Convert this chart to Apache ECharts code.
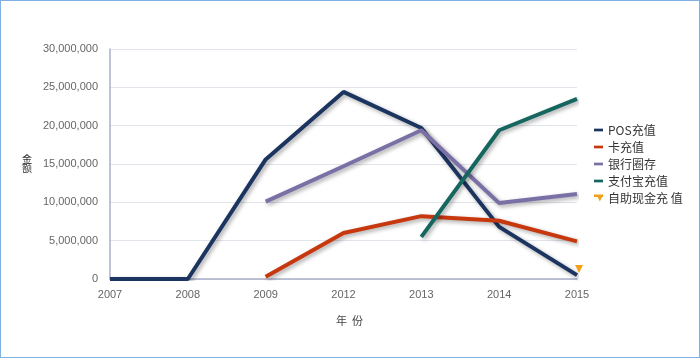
<!DOCTYPE html>
<html><head><meta charset="utf-8">
<script src="https://cdn.jsdelivr.net/npm/echarts@6/dist/echarts.min.js"></script>
<style>
html,body{margin:0;padding:0;background:#fff;}
#wrap{position:absolute;left:0;top:0;width:700px;height:358px;box-sizing:border-box;border:1px solid #7fb0e0;}
#c{width:698px;height:356px;}
</style></head><body>
<div id="wrap"><div id="c"></div></div>
<script>
var years = ['2007','2008','2009','2012','2013','2014','2015'];
var posData = [0, 0, 15600000, 24400000, 19700000, 6800000, 500000];
var cardData = [null, null, 300000, 6000000, 8200000, 7600000, 4900000];
var bankData = [null, null, 10100000, 14700000, 19400000, 9900000, 11100000];
var alipayData = [null, null, null, null, 5500000, 19400000, 23500000];
var cashData = [null, null, null, null, null, null, 1300000];
var seriesNames = ['POS充值','卡充值','银行圈存','支付宝充值','自助现金充 值'];
var yTicks = [0, 5000000, 10000000, 15000000, 20000000, 25000000, 30000000];

var colors = ['#1b3460','#c8380f','#7a70a6','#166660','#f5a01a'];
var chart = echarts.init(document.getElementById('c'));
var shadow = {shadowColor:'rgba(0,0,0,0.35)', shadowBlur:4, shadowOffsetX:2, shadowOffsetY:2};
function lineSeries(name, data, color){
  return {name:name, type:'line', data:data, symbol:'none', connectNulls:false,
    lineStyle:Object.assign({width:4, color:color}, shadow), itemStyle:{color:color}};
}
var lineIcon = 'path://M0,7 L10,7 L10,10 L0,10 Z';
chart.setOption({
  animation:false,
  color:colors,
  grid:{left:109, right:122, top:48, bottom:78},
  legend:{
    orient:'vertical', left:588, top:118, itemGap:5, itemWidth:9, itemHeight:10,
    textStyle:{fontSize:12, color:'#333', fontFamily:'Noto Sans CJK SC'},
    data:[
      {name:seriesNames[0], icon:lineIcon},
      {name:seriesNames[1], icon:lineIcon},
      {name:seriesNames[2], icon:lineIcon},
      {name:seriesNames[3], icon:lineIcon},
      {name:seriesNames[4], icon:'path://M0,0 L10,0 L10,3 L9,3 L6.5,8 L4,3 L0,3 Z'}
    ]
  },
  xAxis:{
    type:'category', data:years, boundaryGap:false,
    name:'年  份', nameLocation:'middle', nameGap:36,
    nameTextStyle:{fontSize:11, color:'#444', fontFamily:'Noto Sans CJK SC', padding:[0,0,0,12]},
    axisLine:{lineStyle:{color:'#a9b0c8', width:1.5}},
    axisTick:{show:false},
    axisLabel:{fontSize:11, color:'#666', margin:10, fontFamily:'Liberation Sans'}
  },
  yAxis:{
    type:'value', min:yTicks[0], max:yTicks[yTicks.length-1], interval:5000000,
    name:'金\n额', nameLocation:'middle', nameGap:78, nameRotate:0,
    nameTextStyle:{fontSize:10, color:'#333', fontFamily:'Noto Sans CJK SC', lineHeight:9, padding:[4,0,0,0]},
    axisLine:{show:true, lineStyle:{color:'#a9b0c8', width:1.5}},
    axisTick:{show:false},
    splitLine:{lineStyle:{color:'#e2e4ec', width:1}},
    axisLabel:{fontSize:11, color:'#666', margin:12, fontFamily:'Liberation Sans',
      formatter:function(v){return v.toLocaleString('en-US');}}
  },
  series:[
    lineSeries(seriesNames[0], posData, colors[0]),
    lineSeries(seriesNames[1], cardData, colors[1]),
    lineSeries(seriesNames[2], bankData, colors[2]),
    lineSeries(seriesNames[3], alipayData, colors[3]),
    {name:seriesNames[4], type:'line', data:cashData, symbol:'triangle', symbolRotate:180, symbolSize:8,
      symbolOffset:[2,0], showSymbol:true,
      itemStyle:{color:colors[4]}, lineStyle:{color:colors[4], width:3}}
  ]
});
</script></body></html>
